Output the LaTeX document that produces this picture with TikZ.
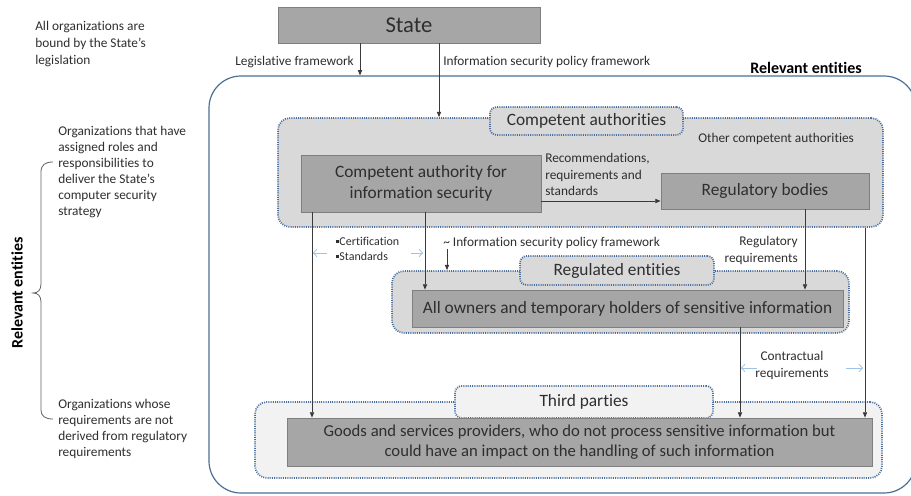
\documentclass[tikz,border=0pt]{standalone}
\usepackage{fontspec}
\setmainfont{Carlito}[Ligatures=NoCommon]
\usetikzlibrary{arrows.meta}
\definecolor{boxfill}{HTML}{A6A6A6}
\definecolor{boxline}{HTML}{7F7F7F}
\definecolor{grpfill}{HTML}{D9D9D9}
\definecolor{grpfilltwo}{HTML}{F2F2F2}
\definecolor{dotblue}{HTML}{4A6F9C}
\definecolor{bigline}{HTML}{4A6F94}
\definecolor{lightarrow}{HTML}{9DC3E6}
\definecolor{conncol}{HTML}{3A3A3A}
\definecolor{txtcol}{HTML}{2E2E2E}
\begin{document}
\begin{tikzpicture}[x=0.75pt,y=-0.75pt,
  every node/.style={text=txtcol},
  darkbox/.style={draw=boxline, fill=boxfill, line width=0.6pt, inner sep=0pt, align=center,
    font=\fontsize{13}{15.5}\selectfont},
  grp/.style={draw=dotblue, line width=1.3pt, dash pattern=on 0.75pt off 0.9pt,
    rounded corners=9pt, inner sep=0pt},
  grplabel/.style={grp, rounded corners=5pt, font=\fontsize{13}{15.5}\selectfont},
  conn/.style={draw=conncol, line width=0.6pt, -{Triangle[length=4pt,width=3.2pt]}},
  lblue/.style={draw=lightarrow, line width=0.6pt, -{Straight Barb[length=2.5pt,width=5.5pt]}},
  smalltxt/.style={font=\fontsize{10}{12.5}\selectfont, inner sep=0pt},
  lefttxt/.style={font=\fontsize{10}{12}\selectfont, inner sep=0pt, align=left, anchor=north west},
  bracestyle/.style={draw=conncol!80, line width=0.6pt}
]
\clip (0,0) rectangle (911,496);
\useasboundingbox (0,0) rectangle (911,496);

% big rounded frame
\node[draw=bigline, line width=0.9pt, rounded corners=24pt, minimum width=530.25pt,
  minimum height=312.75pt, inner sep=0pt] (rel) at (562.5,284.5) {};

% groups
\node[grp, fill=grpfill, minimum width=453.75pt, minimum height=81.75pt] (cag) at (580.5,172.5) {};
\node[grp, fill=grpfill, minimum width=342.75pt, minimum height=46.5pt] (rg) at (620.5,302) {};
\node[grp, fill=grpfilltwo, minimum width=470.25pt, minimum height=57pt] (tg) at (568.5,440) {};

% group labels
\node[grplabel, fill=grpfill, minimum width=144.75pt, minimum height=21pt] (cal) at (586.5,121) {Competent authorities};
\node[grplabel, fill=grpfill, minimum width=145.5pt, minimum height=21.75pt] (rgl) at (617,270.5) {Regulated entities};
\node[grplabel, fill=grpfilltwo, minimum width=193.5pt, minimum height=24pt] (tgl) at (584,402) {Third parties};

% boxes
\node[darkbox, minimum width=196.5pt, minimum height=27pt, font=\fontsize{17}{20}\selectfont] (state) at (409,25) {State};
\node[darkbox, minimum width=180pt, minimum height=42.75pt] (cais) at (421,183.5) {Competent authority for\\information security};
\node[darkbox, minimum width=156pt, minimum height=27pt] (rb) at (765,191) {Regulatory bodies};
\node[darkbox, minimum width=323.25pt, minimum height=27.75pt] (own) at (627.5,308.5) {All owners and temporary holders of sensitive information};
\node[darkbox, minimum width=438.75pt, minimum height=36pt, font=\fontsize{12.5}{15.5}\selectfont] (goods) at (579.5,442)
  {Goods and services providers, who do not process sensitive information but\\could have an impact on the handling of such information};

% x positions of connectors
\coordinate (xleg) at (360,0);
\coordinate (xisp) at (439,0);
\coordinate (xa) at (312,0);
\coordinate (xb) at (425,0);
\coordinate (xc) at (805,0);
\coordinate (xd) at (740,0);
\coordinate (xe) at (865,0);
\coordinate (yrec) at (0,201);
\coordinate (tl) at (447,249);

% connectors
\draw[conn] (state.south -| xleg) -- (rel.north -| xleg);
\draw[conn] (state.south -| xisp) -- (cag.north -| xisp);
\draw[conn] (cais.east |- yrec) -- (rb.west |- yrec);
\draw[conn] (cais.south -| xa) -- (goods.north -| xa);
\draw[conn] (cais.south -| xb) -- (own.north -| xb);
\draw[conn] (tl) -- (tl |- rg.north);
\draw[conn] (rb.south -| xc) -- (own.north -| xc);
\draw[conn] (own.south -| xd) -- (goods.north -| xd);
\draw[conn] (cag.south -| xe) -- (goods.north -| xe);

% light blue arrows
\coordinate (la1) at (327,253); \coordinate (la2) at (313,253);
\coordinate (la3) at (411,253); \coordinate (la4) at (423,253);
\coordinate (lb1) at (757,368); \coordinate (lb2) at (741,368);
\coordinate (lb3) at (846,368); \coordinate (lb4) at (863,368);
\draw[lblue] (la1) -- (la2);
\draw[lblue] (la3) -- (la4);
\draw[lblue] (lb1) -- (lb2);
\draw[lblue] (lb3) -- (lb4);

% labels
\node[smalltxt, anchor=east] (lleg) at (354,62) {Legislative framework};
\node[smalltxt, anchor=west] (lisp) at (443,62) {Information security policy framework};
\node[font=\fontsize{12}{14}\selectfont\bfseries, inner sep=0pt, text=black] (lrel) at (806,68) {Relevant entities};
\node[smalltxt, anchor=west] (loca) at (698,139) {Other competent authorities};
\node[smalltxt, anchor=north west, align=left] (lrec) at (545,153) {Recommendations,\\requirements and\\standards};
\node[font=\fontsize{9}{11.25}\selectfont, inner sep=0pt, anchor=north west, align=left] (lcert) at (336,237)
  {\rule[1.6pt]{2.4pt}{2.4pt}Certification\\\rule[1.6pt]{2.4pt}{2.4pt}Standards};
\node[smalltxt, anchor=west] (lisp2) at (443,243) {\textasciitilde{} Information security policy framework};
\node[smalltxt, anchor=north east, align=right] (lreg) at (798,236) {Regulatory\\requirements};
\node[smalltxt, anchor=north, align=center] (lcon) at (792,351) {Contractual\\requirements};

% left side
\node[lefttxt, font=\fontsize{10}{12.75}\selectfont] (left1) at (35,21) {All organizations are\\bound by the State’s\\legislation};
\node[lefttxt] (left2) at (58,126) {Organizations that have\\assigned roles and\\responsibilities to\\deliver the State’s\\computer security\\strategy};
\node[lefttxt] (left3) at (58,399) {Organizations whose\\requirements are not\\derived from regulatory\\requirements};
\node[rotate=90, font=\fontsize{12}{14}\selectfont\bfseries, inner sep=0pt, text=black] (lrel2) at (17,293) {Relevant entities};

% brace
\draw[bracestyle] (53,162) .. controls (45,162) and (41,165) .. (41,172) -- (41,284)
  .. controls (41,290) and (38,293) .. (33,293)
  .. controls (38,293) and (41,296) .. (41,302) -- (41,410)
  .. controls (41,416) and (45,419) .. (53,419);
\end{tikzpicture}
\end{document}
